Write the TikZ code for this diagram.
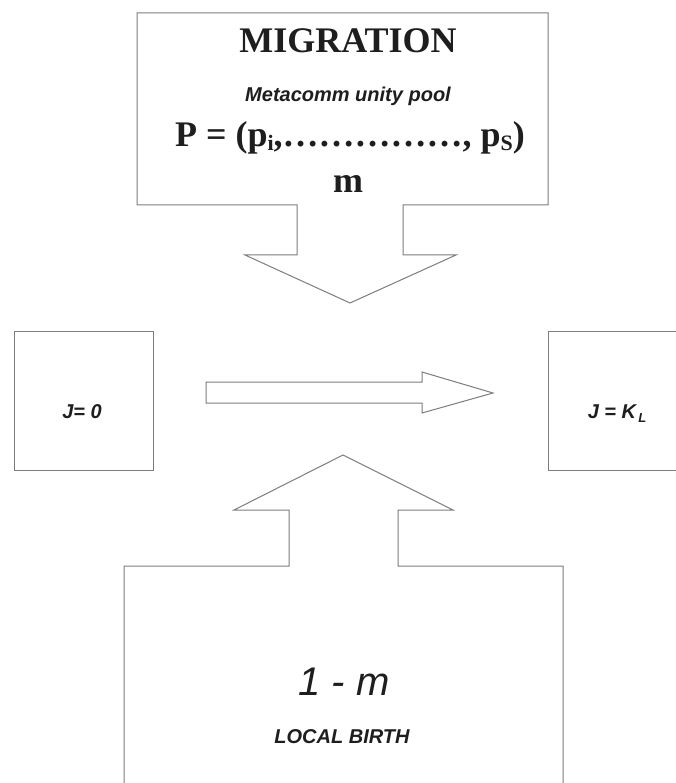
\documentclass[tikz,border=0pt]{standalone}
\usepackage{fontspec}
\setmainfont{Liberation Serif}
\newfontfamily\arialf{Liberation Sans}
\definecolor{linegray}{RGB}{125,125,125}
\definecolor{txt}{RGB}{30,30,30}
\newcommand{\mysub}[1]{\raisebox{-4pt}{\fontsize{22}{22}\selectfont #1}}
\tikzset{
  outline/.style={draw=linegray, line width=1pt, line join=miter, fill=white},
  serifbig/.style={font=\fontsize{36}{40}\selectfont\bfseries, text=txt, anchor=base, inner sep=0pt},
  sansbi/.style={font=\arialf\fontsize{20}{24}\selectfont\bfseries\itshape, text=txt, anchor=base, inner sep=0pt},
  sansj/.style={font=\arialf\fontsize{20}{24}\selectfont\bfseries\itshape, text=txt, anchor=base, inner sep=0pt},
  sansbig/.style={font=\arialf\fontsize{40}{44}\selectfont\itshape, text=txt, anchor=base, inner sep=0pt}
}
\begin{document}
\begin{tikzpicture}[x=1pt,y=-1pt]
\useasboundingbox (0,0) rectangle (676,783);
\clip (0,0) rectangle (676,783);
\fill[white] (0,0) rectangle (676,783);

% top migration box with down arrow
\draw[outline] (137,13) -- (548,13) -- (548,205) -- (403,205) -- (403,255) -- (456,255)
  -- (350,303) -- (245,255) -- (297,255) -- (297,205) -- (137,205) -- cycle;

% left box
\draw[outline] (14,331) rectangle (153,470);
% right box (cut by the border)
\draw[outline] (690,331) -- (548,331) -- (548,470) -- (690,470);

% horizontal arrow
\draw[outline] (206,382) -- (422,382) -- (422,372) -- (493,393) -- (422,413) -- (422,403) -- (206,403) -- cycle;

% bottom box with up arrow
\draw[outline] (124,800) -- (124,566) -- (289,566) -- (289,510) -- (234,510) -- (343,455)
  -- (453,510) -- (398,510) -- (398,566) -- (563,566) -- (563,800);

% texts
\node[serifbig] (mig) at (348,53) {MIGRATION};
\node[sansbi] (meta) at (348,102) {Metacomm unity pool};
\node[serifbig] (pool) at (350,147) {P = (p\mysub{i},……………, p\mysub{S})};
\node[serifbig] (m) at (348,193) {m};

\node[sansj] (j0) at (82,418) {J= 0};
\node[sansj] (jk) at (617,418) {J = K\mysub{\fontsize{13}{13}\selectfont\,L}};

\node[sansbig] (onem) at (344,695) {1 - m};
\node[sansbi] (birth) at (342,743) {LOCAL BIRTH};
\end{tikzpicture}
\end{document}
